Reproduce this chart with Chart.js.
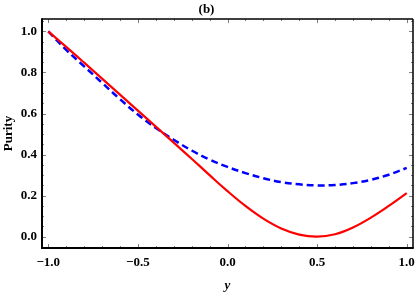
<!DOCTYPE html>
<html>
<head>
<meta charset="utf-8">
<script src="https://cdn.jsdelivr.net/npm/chart.js@4"></script>
<style>
  html, body { margin: 0; padding: 0; background: #fff; }
  #wrap { width: 415px; height: 293px; }
</style>
</head>
<body>
<div id="wrap"><canvas id="purityChart" width="415" height="293"></canvas></div>
<script>
// values
const yParam = [-1.0, -0.9, -0.8, -0.7, -0.6, -0.5, -0.4, -0.3, -0.2, -0.1, 0.0,
                0.1, 0.2, 0.3, 0.4, 0.5, 0.6, 0.7, 0.8, 0.9, 1.0];
const purityRed = [1.00, 0.925, 0.848, 0.770, 0.692, 0.614, 0.536, 0.458, 0.380, 0.300, 0.222,
                   0.150, 0.088, 0.040, 0.010, 0.0, 0.012, 0.045, 0.093, 0.150, 0.212];
const purityBlue = [1.00, 0.91, 0.83, 0.75, 0.67, 0.595, 0.530, 0.472, 0.420, 0.376, 0.340,
                    0.310, 0.285, 0.266, 0.255, 0.250, 0.252, 0.261, 0.277, 0.302, 0.335];
const xTickValues = [-1.0, -0.5, 0.0, 0.5, 1.0];
const yTickValues = [0.0, 0.2, 0.4, 0.6, 0.8, 1.0];

const serif = "'Liberation Serif', 'DejaVu Serif', serif";

function toPoints(xs, ys) {
    return xs.map((x, i) => ({ x: x, y: ys[i] }));
}

function fmt(v) {
    const s = Math.abs(v).toFixed(1);
    return v < 0 ? '\u2212' + s : s;
}

// frame with inward major/minor ticks, like the original plot
const frameTicks = {
    id: 'frameTicks',
    afterDatasetsDraw(chart) {
        const { ctx, chartArea: a, scales } = chart;
        const xs = scales.x, ys = scales.y;
        ctx.save();
        ctx.strokeStyle = '#808080';
        ctx.lineWidth = 1;
        for (let i = -10; i <= 10; i++) {
            const v = i / 10;
            const major = i % 5 === 0;
            const len = major ? 4 : 2;
            const px = Math.round(xs.getPixelForValue(v)) + 0.5;
            ctx.beginPath();
            ctx.moveTo(px, a.bottom); ctx.lineTo(px, a.bottom - len);
            ctx.moveTo(px, a.top); ctx.lineTo(px, a.top + len);
            ctx.stroke();
        }
        for (let i = -1; i <= 21; i++) {
            const v = i * 0.05;
            if (v < ys.min || v > ys.max) continue;
            const major = i % 4 === 0;
            const len = major ? 4 : 2;
            const py = Math.round(ys.getPixelForValue(v)) + 0.5;
            ctx.beginPath();
            ctx.moveTo(a.left, py); ctx.lineTo(a.left + len, py);
            ctx.moveTo(a.right, py); ctx.lineTo(a.right - len, py);
            ctx.stroke();
        }
        ctx.strokeStyle = '#000';
        ctx.lineWidth = 1.5;
        ctx.beginPath();
        ctx.moveTo(a.left, a.top); ctx.lineTo(a.right, a.top);
        ctx.moveTo(a.right, a.top); ctx.lineTo(a.right, a.bottom);
        ctx.stroke();
        ctx.lineWidth = 2;
        ctx.beginPath();
        ctx.moveTo(a.left, a.top - 0.75); ctx.lineTo(a.left, a.bottom);
        ctx.lineTo(a.right + 0.75, a.bottom);
        ctx.stroke();
        ctx.restore();
    }
};

new Chart(document.getElementById('purityChart'), {
    type: 'line',
    data: {
        datasets: [{
            label: 'red',
            data: toPoints(yParam, purityRed),
            borderColor: '#ff0000',
            borderWidth: 2.2,
            pointRadius: 0,
            fill: false,
            tension: 0.4
        }, {
            label: 'blue',
            data: toPoints(yParam, purityBlue),
            borderColor: '#0000ff',
            borderWidth: 2.5,
            borderDash: [7, 4],
            pointRadius: 0,
            fill: false,
            tension: 0.4
        }]
    },
    options: {
        responsive: false,
        animation: false,
        layout: { padding: { top: 0, right: 2, bottom: 0, left: 0 } },
        plugins: {
            legend: { display: false },
            tooltip: { enabled: false },
            title: {
                display: true,
                text: '(b)',
                color: '#000',
                font: { family: serif, size: 13, weight: 'bold' },
                padding: { top: 2, bottom: 1.5 }
            }
        },
        scales: {
            x: {
                type: 'linear',
                min: -1.035,
                max: 1.035,
                afterBuildTicks: scale => { scale.ticks = xTickValues.map(v => ({ value: v })); },
                afterFit: scale => {
                    scale.height = 45;
                    scale.paddingLeft = 0;
                    scale.paddingRight = 0;
                },
                grid: { display: false, drawTicks: false },
                border: { display: false },
                ticks: {
                    padding: 7,
                    color: '#000',
                    maxRotation: 0,
                    font: { family: serif, size: 13, weight: 'bold' },
                    callback: v => fmt(v)
                },
                title: {
                    display: true,
                    text: 'y',
                    color: '#000',
                    font: { family: serif, size: 13, style: 'italic', weight: 'bold' },
                    padding: { top: 4, bottom: 0 }
                }
            },
            y: {
                type: 'linear',
                min: -0.055,
                max: 1.06,
                afterBuildTicks: scale => { scale.ticks = yTickValues.map(v => ({ value: v })); },
                afterFit: scale => {
                    scale.width = 42;
                    scale.paddingTop = 0;
                    scale.paddingBottom = 0;
                },
                grid: { display: false, drawTicks: false },
                border: { display: false },
                ticks: {
                    padding: 5,
                    color: '#000',
                    font: { family: serif, size: 13, weight: 'bold' },
                    callback: v => fmt(v)
                },
                title: {
                    display: true,
                    text: 'Purity',
                    color: '#000',
                    font: { family: serif, size: 13, weight: 'bold' },
                    padding: { top: 1, bottom: 0 }
                }
            }
        }
    },
    plugins: [frameTicks]
});
</script>
</body>
</html>
